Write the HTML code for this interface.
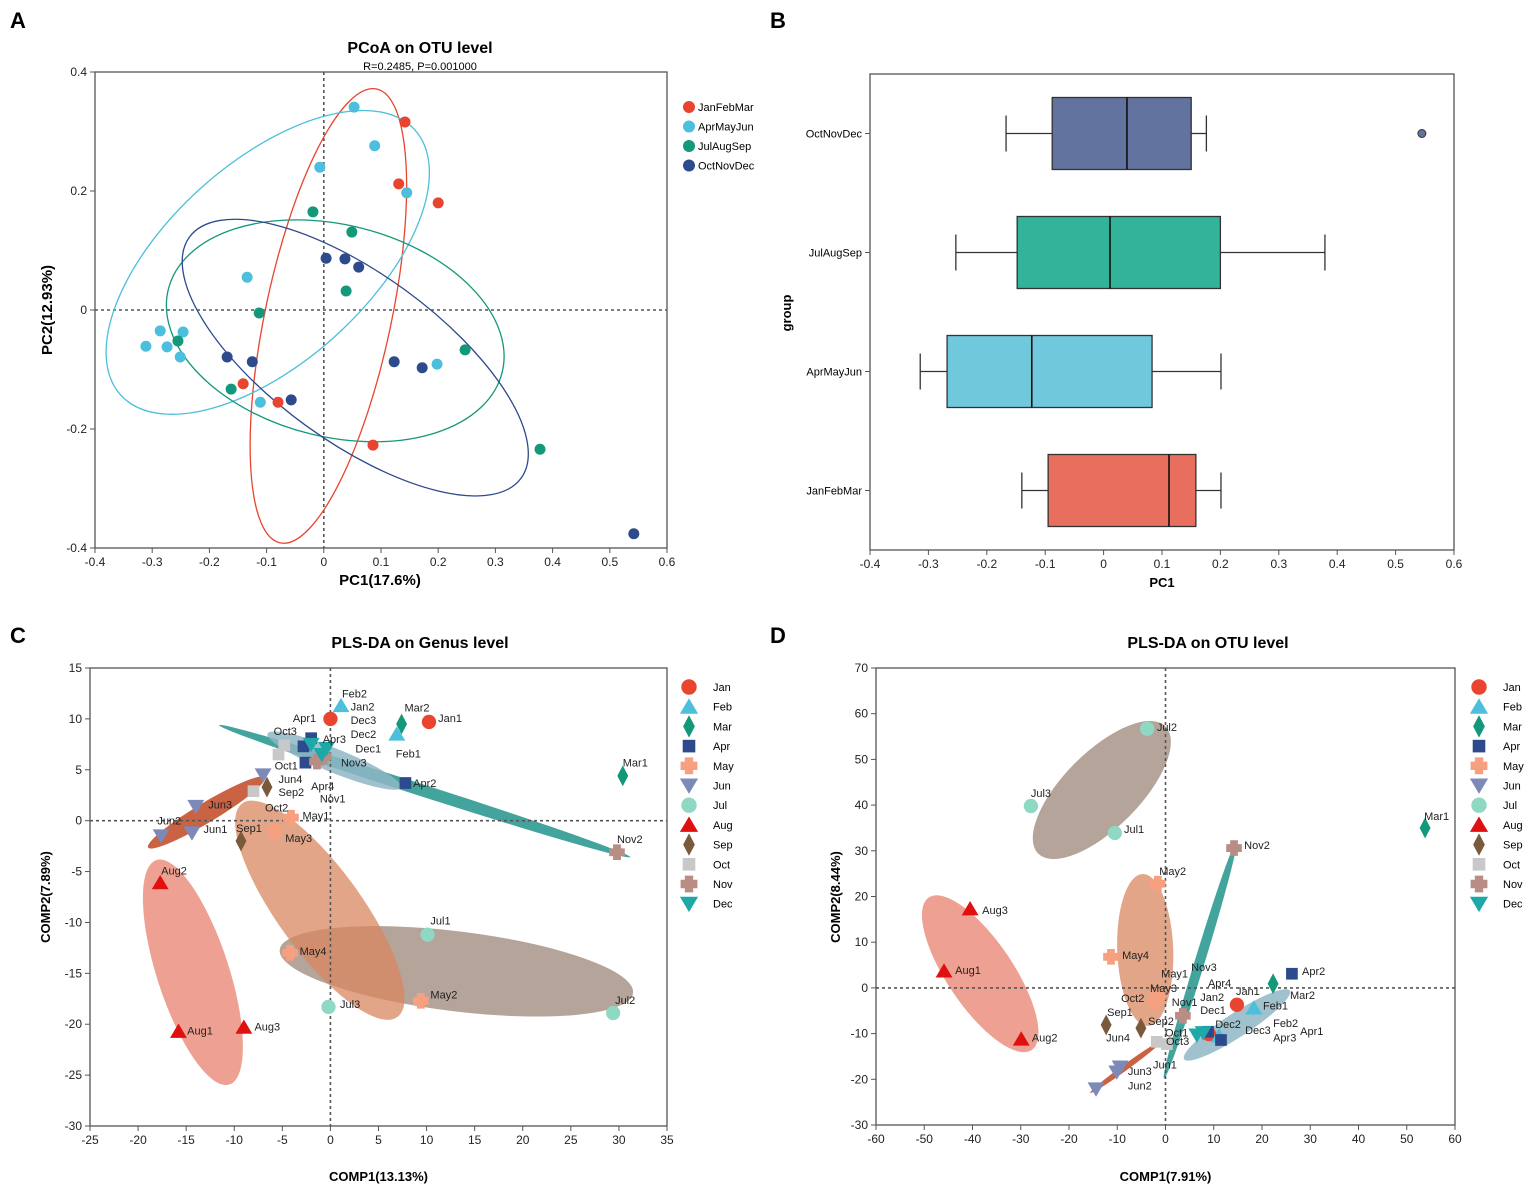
<!DOCTYPE html>
<html><head><meta charset="utf-8">
<style>
html,body{margin:0;padding:0;background:#fff;}
svg{display:block;font-family:"Liberation Sans",Arial,sans-serif;}
</style></head>
<body>
<svg id="fig" width="1535" height="1193" viewBox="0 0 1535 1193" xmlns="http://www.w3.org/2000/svg"></svg>
<script>
// ===== Panel A data (PCoA) =====
const aGroups = ["JanFebMar","AprMayJun","JulAugSep","OctNovDec"];
const aColors = ["#e8442f","#4bbfdb","#14987a","#2c4a8c"];
const aJanX = [0.142,0.131,0.200,-0.141,-0.080,0.086];
const aJanY = [0.316,0.212,0.180,-0.124,-0.155,-0.227];
const aAprX = [0.053,0.089,-0.007,0.145,-0.134,-0.311,-0.286,-0.274,-0.246,-0.251,-0.111,0.198];
const aAprY = [0.341,0.276,0.240,0.197,0.055,-0.061,-0.035,-0.062,-0.037,-0.079,-0.155,-0.091];
const aJulX = [-0.019,0.049,0.039,-0.113,-0.255,-0.162,0.247,0.378];
const aJulY = [0.165,0.131,0.032,-0.005,-0.052,-0.133,-0.067,-0.234];
const aOctX = [0.004,0.037,0.061,-0.169,-0.125,-0.057,0.123,0.172,0.542];
const aOctY = [0.087,0.086,0.072,-0.079,-0.087,-0.151,-0.087,-0.097,-0.376];
const aXTicks = [-0.4,-0.3,-0.2,-0.1,0,0.1,0.2,0.3,0.4,0.5,0.6];
const aYTicks = [-0.4,-0.2,0,0.2,0.4];
// ===== Panel B data (boxplot) =====
const bCats = ["OctNovDec","JulAugSep","AprMayJun","JanFebMar"];
const bMin = [-0.167,-0.253,-0.314,-0.140];
const bQ1 = [-0.088,-0.148,-0.268,-0.095];
const bMed = [0.040,0.011,-0.123,0.112];
const bQ3 = [0.150,0.200,0.083,0.158];
const bMax = [0.176,0.379,0.201,0.201];
const bOutliers = [0.545,null,null,null];
// ===== Panel C data (PLS-DA genus) =====
const months = ["Jan","Feb","Mar","Apr","May","Jun","Jul","Aug","Sep","Oct","Nov","Dec"];
const cPtsX = [[0,10.25],[1.1,6.9],[7.4,30.4],[-2.0,-2.8,-2.6,7.8],[-4.1,-5.8,-4.2,9.4],[-7.0,-14.0,-17.6,-14.4],[10.1,-0.2,29.4],[-17.7,-15.8,-9.0],[-6.6,-9.3],[-4.8,-5.4,-8.0],[-1.4,-0.7,29.8],[-2.0,-0.4,-0.9]];
const cPtsY = [[10.0,9.7],[11.3,8.5],[9.5,4.4],[8.1,7.3,5.7,3.7],[0.3,-1.1,-13.0,-17.7],[4.5,1.4,-1.5,-1.2],[-11.2,-18.3,-18.9],[-6.1,-20.7,-20.3],[3.3,-2.0],[7.4,6.5,2.9],[5.8,6.3,-3.1],[7.5,7.1,6.5]];
const cLabels = ["Feb2","Jan2","Apr1","Dec3","Dec2","Dec1","Mar2","Jan1","Feb1","Oct3","Apr3","Nov3","Oct1","Jun4","Apr4","Sep2","Nov1","Apr2","Mar1","Oct2","May1","Jun3","Jun2","Jun1","Sep1","May3","Nov2","Aug2","Jul1","May4","Jul3","May2","Jul2","Aug1","Aug3"];
const cLabelX = [1.2,2.1,-3.9,2.1,2.1,2.6,7.7,11.2,6.8,-5.9,-0.8,1.1,-5.8,-5.4,-2.0,-5.4,-1.1,8.6,30.4,-6.8,-2.9,-12.7,-18.0,-13.2,-9.8,-4.7,29.8,-17.6,10.4,-3.2,1.0,10.4,29.6,-14.9,-7.9];
const cLabelY = [12.5,11.2,10.1,9.9,8.5,7.1,11.1,10.1,6.6,8.8,8.0,5.7,5.4,4.1,3.4,2.8,2.2,3.7,5.7,1.3,0.5,1.6,0,-0.8,-0.7,-1.7,-1.8,-4.9,-9.8,-12.8,-18.0,-17.1,-17.6,-20.6,-20.2];
const cXTicks = [-25,-20,-15,-10,-5,0,5,10,15,20,25,30,35];
const cYTicks = [-30,-25,-20,-15,-10,-5,0,5,10,15];
// ===== Panel D data (PLS-DA OTU) =====
const dPtsX = [[14.8,9.0],[18.3,11.1],[53.8,22.3],[26.2,8.8,11.5],[-1.6,-11.3,-1.6,-2.2],[-14.4,-10.1,-9.4],[-3.8,-27.9,-10.5],[-45.9,-40.5,-29.9],[-12.3,-5.1],[-1.8,0.3],[14.2,3.6],[6.5,7.8]];
const dPtsY = [[-3.7,-10.1],[-4.4,-10.5],[35.0,0.9],[3.1,-9.6,-11.4],[22.8,6.8,-1.8,-3.1],[-22.1,-18.4,-17.3],[56.7,39.8,33.9],[3.7,17.3,-11.2],[-8.1,-8.8],[-11.8,-12.3],[30.6,-6.1],[-10.3,-9.8]];
const dLabels = ["Jul2","Jul3","Jul1","Mar1","Nov2","May2","Aug3","May4","Aug1","Nov3","May1","Apr2","Apr4","May3","Jan1","Mar2","Jan2","Oct2","Nov1","Feb1","Dec1","Sep1","Sep2","Feb2","Dec2","Dec3","Apr1","Oct1","Aug2","Jun4","Apr3","Oct3","Jun1","Jun3","Jun2"];
const dLabelX = [-1.8,-27.9,-8.6,53.6,16.3,-1.3,-38.0,-9.0,-43.6,5.3,-0.9,28.3,8.8,-3.2,14.6,25.8,7.2,-9.2,1.3,20.2,7.2,-12.1,-3.6,22.3,10.3,16.5,27.9,-0.1,-27.7,-12.3,22.3,0.1,-2.6,-7.8,-7.8];
const dLabelY = [57.1,42.7,34.8,37.6,31.3,25.6,17.1,7.2,3.9,4.6,3.1,3.7,1.1,0,-0.7,-1.5,-2.0,-2.2,-3.1,-3.9,-4.8,-5.3,-7.2,-7.7,-7.9,-9.2,-9.4,-9.8,-10.9,-10.9,-10.9,-11.6,-16.8,-18.2,-21.4];
const dXTicks = [-60,-50,-40,-30,-20,-10,0,10,20,30,40,50,60];
const dYTicks = [-30,-20,-10,0,10,20,30,40,50,60,70];

const mColors = ["#e8442f","#4bbfdb","#14987a","#2c4a8c","#f7a07f","#7c89b9","#8fd8c4","#e01010","#7a5a3d","#c8c8c8","#b98c84","#1fa8a8"];
const mShapes = ["circle","tri","diamond","square","cross","dtri","circle","tri","diamond","square","cross","dtri"];

const NS="http://www.w3.org/2000/svg";
const svg=document.getElementById('fig');
function el(tag,attrs,parent){const e=document.createElementNS(NS,tag);for(const k in attrs)e.setAttribute(k,attrs[k]);(parent||svg).appendChild(e);return e;}
function txt(s,x,y,attrs,parent){const t=el('text',Object.assign({x:x,y:y},attrs),parent);t.textContent=s;return t;}
function lin(d0,d1,p0,p1){return v=>p0+(v-d0)*(p1-p0)/(d1-d0);}
function fmt(v){return (Math.round(v*10)/10).toString();}

function frame(g,x0,x1,y0,y1){
  el('rect',{x:x0,y:y0,width:x1-x0,height:y1-y0,fill:'none',stroke:'#555','stroke-width':1.3},g);
}
function xAxisTicks(g,ticks,sx,yb,f){
  ticks.forEach(t=>{el('line',{x1:sx(t),x2:sx(t),y1:yb,y2:yb+5,stroke:'#555'},g);
    const l=txt(f(t),sx(t),yb+18,{'font-size':12,'text-anchor':'middle',fill:'#222'},g);
    
    });
}
function yAxisTicks(g,ticks,sy,xl,f){
  ticks.forEach(t=>{el('line',{x1:xl-5,x2:xl,y1:sy(t),y2:sy(t),stroke:'#555'},g);
    const l=txt(f(t),xl-8,sy(t)+4,{'font-size':12,'text-anchor':'end',fill:'#222'},g);
    
    });
}
function marker(g,shape,x,y,c,s){
  let e;
  if(shape==='circle') e=el('circle',{cx:x,cy:y,r:s*0.55,fill:c},g);
  else if(shape==='tri') e=el('polygon',{points:`${x},${y-s*0.6} ${x-s*0.65},${y+s*0.5} ${x+s*0.65},${y+s*0.5}`,fill:c},g);
  else if(shape==='dtri') e=el('polygon',{points:`${x},${y+s*0.6} ${x-s*0.65},${y-s*0.5} ${x+s*0.65},${y-s*0.5}`,fill:c},g);
  else if(shape==='diamond') e=el('polygon',{points:`${x},${y-s*0.8} ${x+s*0.42},${y} ${x},${y+s*0.8} ${x-s*0.42},${y}`,fill:c},g);
  else if(shape==='square') e=el('rect',{x:x-s*0.45,y:y-s*0.45,width:s*0.9,height:s*0.9,fill:c},g);
  else if(shape==='cross'){const w=s*0.3,h=s*0.6;e=el('path',{d:`M${x-w},${y-h}h${2*w}v${h-w}h${h-w}v${2*w}h${-(h-w)}v${h-w}h${-2*w}v${-(h-w)}h${-(h-w)}v${-2*w}h${h-w}z`,fill:c},g);}
  return e;
}
function ellipse(g,cx,cy,a,b,rot,fill,op){
  const e=el('ellipse',{cx:cx,cy:cy,rx:a,ry:b,transform:`rotate(${rot} ${cx} ${cy})`,fill:fill,'fill-opacity':op},g);
  
  
  return e;
}
function dashLine(g,x1,y1,x2,y2){el('line',{x1,y1,x2,y2,stroke:'#555','stroke-width':1.6,'stroke-dasharray':'3,3'},g);}

// Panel letters
[["A",10,28],["B",770,28],["C",10,643],["D",770,643]].forEach(p=>{const t=txt(p[0],p[1],p[2],{'font-size':22,'font-weight':'bold'});
  
  });

// ===== Panel A =====
(function(){
  const g=el('g',{});
  
  
  const X0=95,X1=667,Y0=72,Y1=548;
  const sx=lin(-0.4,0.6,X0,X1), sy=lin(0.4,-0.4,Y0,Y1);
  frame(g,X0,X1,Y0,Y1);
  xAxisTicks(g,aXTicks,sx,Y1,fmt);
  yAxisTicks(g,aYTicks,sy,X0,fmt);
  dashLine(g,sx(0),Y0,sx(0),Y1);dashLine(g,X0,sy(0),X1,sy(0));
  const t=txt("PCoA on OTU level",420,53,{'font-size':16,'font-weight':'bold','text-anchor':'middle'},g);
  
  const s=txt("R=0.2485, P=0.001000",420,70,{'font-size':11,'text-anchor':'middle'},g);
  
  const xt=txt("PC1(17.6%)",380,585,{'font-size':15,'font-weight':'bold','text-anchor':'middle'},g);
  
  const yt=txt("PC2(12.93%)",0,0,{'font-size':15,'font-weight':'bold','text-anchor':'middle',transform:'translate(52,310) rotate(-90)'},g);
  
  // confidence ellipses (outlines)
  const ells=[[sx(0.008),sy(-0.01),232,63,-78,aColors[0]],[sx(-0.098),sy(0.08),198,100,-42,aColors[1]],[sx(0.02),sy(-0.035),172,106,14,aColors[2]],[sx(0.055),sy(-0.08),205,84,36,aColors[3]]];
  ells.forEach(e=>{const o=el('ellipse',{cx:e[0],cy:e[1],rx:e[2],ry:e[3],transform:`rotate(${e[4]} ${e[0]} ${e[1]})`,fill:'none',stroke:e[5],'stroke-width':1.3},g);
    });
  const xs=[aJanX,aAprX,aJulX,aOctX], ys=[aJanY,aAprY,aJulY,aOctY];
  xs.forEach((arr,gi)=>arr.forEach((v,i)=>{const c=el('circle',{cx:sx(v),cy:sy(ys[gi][i]),r:5.5,fill:aColors[gi]},g);
    
    }));
  aGroups.forEach((n,i)=>{const y=107+i*19.5;
    const lg=el('g',{},g);
    
    
    el('circle',{cx:689,cy:y,r:6,fill:aColors[i]},lg);
    txt(n,698,y+4,{'font-size':11},lg);});
  // clip legend text at right like reference
  el('rect',{x:757,y:95,width:12,height:80,fill:'#fff'},g);
})();

// ===== Panel B =====
(function(){
  const g=el('g',{});
  
  
  const X0=870,X1=1454,Y0=74,Y1=550;
  const sx=lin(-0.4,0.6,X0,X1);
  const rowH=(Y1-Y0)/4;
  const sy=i=>Y0+rowH*(i+0.5);
  frame(g,X0,X1,Y0,Y1);
  xAxisTicks(g,aXTicks,sx,Y1,fmt);
  const bColors=["#62739f","#33b39a","#6fc8dc","#e86f5e"];
  bCats.forEach((c,i)=>{const y=sy(i);
    el('line',{x1:X0-5,x2:X0,y1:y,y2:y,stroke:'#555'},g);
    const l=txt(c,X0-8,y+4,{'font-size':11,'text-anchor':'end'},g);
    
    const bg=el('g',{},g);
    
    
    el('line',{x1:sx(bMin[i]),x2:sx(bQ1[i]),y1:y,y2:y,stroke:'#333','stroke-width':1.3},bg);
    el('line',{x1:sx(bQ3[i]),x2:sx(bMax[i]),y1:y,y2:y,stroke:'#333','stroke-width':1.3},bg);
    el('line',{x1:sx(bMin[i]),x2:sx(bMin[i]),y1:y-18,y2:y+18,stroke:'#333','stroke-width':1.3},bg);
    el('line',{x1:sx(bMax[i]),x2:sx(bMax[i]),y1:y-18,y2:y+18,stroke:'#333','stroke-width':1.3},bg);
    el('rect',{x:sx(bQ1[i]),y:y-36,width:sx(bQ3[i])-sx(bQ1[i]),height:72,fill:bColors[i],stroke:'#333','stroke-width':1.3},bg);
    el('line',{x1:sx(bMed[i]),x2:sx(bMed[i]),y1:y-36,y2:y+36,stroke:'#111','stroke-width':1.6},bg);
    if(bOutliers[i]!==null){el('circle',{cx:sx(bOutliers[i]),cy:y,r:4,fill:bColors[i],stroke:'#333'},bg);}
  });
  const xt=txt("PC1",1162,587,{'font-size':13,'font-weight':'bold','text-anchor':'middle'},g);
  
  const yt=txt("group",0,0,{'font-size':13,'font-weight':'bold','text-anchor':'middle',transform:'translate(791,313) rotate(-90)'},g);
  
})();

function plsPanel(name,X0,X1,Y0,Y1,xd,yd,xTicks,yTicks,px,py,labels,lx,ly,ells,title,tx,xTitle,yTitle,ytx,legX){
  const g=el('g',{});
  
  
  const sx=lin(xd[0],xd[1],X0,X1), sy=lin(yd[1],yd[0],Y0,Y1);
  frame(g,X0,X1,Y0,Y1);
  xAxisTicks(g,xTicks,sx,Y1,v=>String(v));
  yAxisTicks(g,yTicks,sy,X0,v=>String(v));
  ells.forEach(e=>ellipse(g,sx(e[0]),sy(e[1]),e[2],e[3],e[4],e[5],e[6]));
  dashLine(g,sx(0),Y0,sx(0),Y1);dashLine(g,X0,sy(0),X1,sy(0));
  px.forEach((arr,mi)=>arr.forEach((v,i)=>{const m=marker(g,mShapes[mi],sx(v),sy(py[mi][i]),mColors[mi],13);
    
    }));
  labels.forEach((s,i)=>{const t=txt(s,sx(lx[i]),sy(ly[i])+4,{'font-size':11,fill:'#222'},g);
    
    });
  const t=txt(title,tx,648,{'font-size':16,'font-weight':'bold','text-anchor':'middle'},g);
  
  const xt=txt(xTitle,(X0+X1)/2,1181,{'font-size':13,'font-weight':'bold','text-anchor':'middle'},g);
  
  const yt=txt(yTitle,0,0,{'font-size':13,'font-weight':'bold','text-anchor':'middle',transform:`translate(${ytx},897) rotate(-90)`},g);
  
  months.forEach((m,i)=>{const y=687+i*19.7;
    const lg=el('g',{},g);
    
    
    marker(lg,mShapes[i],legX,y,mColors[i],14);
    txt(m,legX+24,y+4,{'font-size':11},lg);});
}

plsPanel('plsda-genus-panel',90,667,668,1126,[-25,35],[-30,15],cXTicks,cYTicks,cPtsX,cPtsY,cLabels,cLabelX,cLabelY,
 [[-14.3,-14.9,118,36,72,'#e8806e',0.75],[13.1,-14.8,178,40,7,'#9c8678',0.75],[-1.1,-8.8,132,42,54,'#d9875f',0.75],[-12.9,0.8,68,10,-31,'#c75a3a',0.95],[9.8,2.9,216,6,17.8,'#2f9a94',0.9],[0.4,5.9,72,12,22,'#8fb6c6',0.85]],
 "PLS-DA on Genus level",420,"COMP1(13.13%)","COMP2(7.89%)",50,689);

plsPanel('plsda-otu-panel',876,1455,668,1125,[-60,60],[-30,70],dXTicks,dYTicks,dPtsX,dPtsY,dLabels,dLabelX,dLabelY,
 [[-13.2,43.3,90,38,-45,'#9c8678',0.75],[-38.4,3.1,92,33,56,'#e8806e',0.75],[-4.2,8.3,76,28,88,'#d9875f',0.75],[7.2,6.1,124,5,-73,'#2f9a94',0.9],[14.8,-8.1,63,12,-33,'#8fb6c6',0.85],[-8.2,-17.3,44,3,-36,'#c75a3a',0.95]],
 "PLS-DA on OTU level",1208,"COMP1(7.91%)","COMP2(8.44%)",840,1479);
</script>
</body></html>
